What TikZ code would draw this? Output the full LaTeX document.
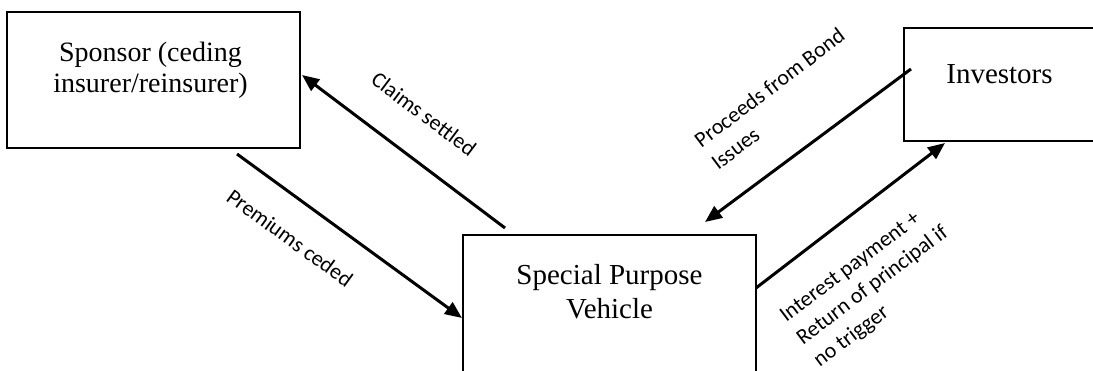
\documentclass[tikz,border=0pt]{standalone}
\usepackage{fontspec}
\setmainfont{Liberation Serif}
\newfontfamily\lblfont{Carlito}
\usetikzlibrary{
arrows.meta,
positioning,
calc
}

\begin{document}
\begin{tikzpicture}[
x=1pt,y=-1pt,
box/.style={
draw,
line width=2pt,
inner sep=0pt,
outer sep=0pt
},
boxtext/.style={inner sep=0pt,align=center,font=\fontsize{28}{31}\selectfont},
lbl/.style={inner sep=0pt,align=left,font=\lblfont\fontsize{22}{28}\selectfont},
arrow/.style={-{Triangle[length=17pt,width=14pt]},line width=3pt}
]
\useasboundingbox (0,0) rectangle (1093,370);
\clip (0,0) rectangle (1093,370);

% boxes
\node[box,minimum width=293pt,minimum height=136pt] (sponsor) at (153.5,80) {};
\node[box,minimum width=194pt,minimum height=113pt] (investors) at (1001,84.5) {};
\node[box,minimum width=293pt,minimum height=155pt] (spv) at (609.5,312.5) {};

\node[boxtext,below=29.6pt of sponsor.north,xshift=-3pt] (sponsortext) {Sponsor (ceding\\insurer/reinsurer)};
\node[boxtext,font=\fontsize{29}{34}\selectfont,below=36.8pt of investors.north,xshift=-1.5pt] (investorstext) {Investors};
\node[boxtext,font=\fontsize{29}{34}\selectfont,below=29.5pt of spv.north] (spvtext) {Special Purpose\\Vehicle};

% flows
\draw[arrow] ($(sponsor.south west)+(230,6)$) -- ($(spv.north west)+(-1,83)$);
\draw[arrow] ($(spv.north west)+(42,-7)$) -- ($(sponsor.north east)+(2,63)$);
\draw[arrow] ($(investors.north west)+(7,41)$) -- ($(spv.north west)+(242,-13)$);
\draw[arrow] ($(spv.north east)+(0,53)$) -- ($(investors.south west)+(41,2)$);

% labels
\node[lbl,rotate=-36] (premiums) at (290,238) {Premiums ceded};
\node[lbl,rotate=-37] (claims) at (424,114) {Claims settled};
\node[lbl,rotate=37,anchor=north west] (proceeds) at (692,136) {Proceeds from Bond\\Issues};
\node[lbl,rotate=37,anchor=north west] (interest) at (777.5,311.6) {Interest payment +\\Return of principal if\\no trigger};

\end{tikzpicture}
\end{document}
